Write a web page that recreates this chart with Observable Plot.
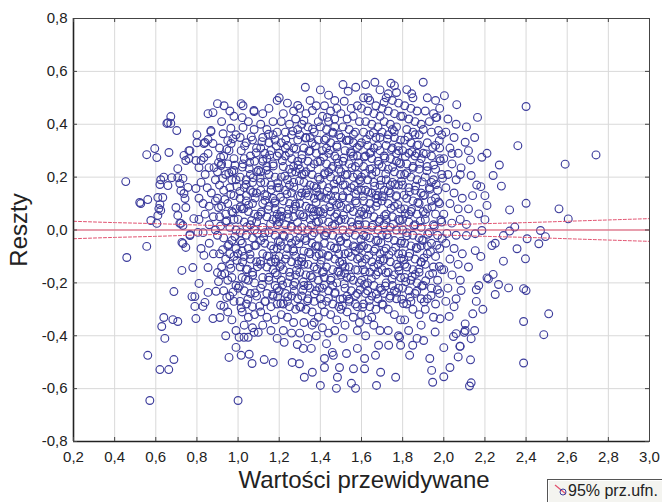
<!DOCTYPE html>
<html><head><meta charset="utf-8">
<script src="https://cdn.jsdelivr.net/npm/d3@7"></script>
<script src="https://cdn.jsdelivr.net/npm/@observablehq/plot@0.6"></script>
<style>
html,body{margin:0;padding:0;background:#fff;overflow:hidden;width:662px;height:502px;}
#wrap{position:relative;width:662px;height:502px;}
#legend{position:absolute;left:547px;top:479px;width:130px;height:32px;border:1px solid #555;background:#f4f4f0;box-sizing:border-box;font-family:"Liberation Sans",Arial,sans-serif;font-size:16px;color:#222;box-shadow:inset 1px 1px 0 #fff;}
#legend svg{position:absolute;left:6px;top:3px;}
#legend span{position:absolute;left:20px;top:2px;white-space:nowrap;}
</style></head><body><div id="wrap"><div id="legend"><svg width="16" height="14"><line x1="1" y1="2" x2="12" y2="11" stroke="#e2506e" stroke-width="1.2"/><circle cx="9" cy="9" r="3" fill="none" stroke="#3d3d9c"/></svg><span>95% prz.ufn.</span></div></div>
<script>
const xTicks = [0.2,0.4,0.6,0.8,1.0,1.2,1.4,1.6,1.8,2.0,2.2,2.4,2.6,2.8,3.0];
const xTickLabels = ["0,2","0,4","0,6","0,8","1,0","1,2","1,4","1,6","1,8","2,0","2,2","2,4","2,6","2,8","3,0"];
const yTicks = [-0.8,-0.6,-0.4,-0.2,0,0.2,0.4,0.6,0.8];
const yTickLabels = ["-0,8","-0,6","-0,4","-0,2","0,0","0,2","0,4","0,6","0,8"];
const xTitle = "Wartości przewidywane";
const yTitle = "Reszty";

// 95% confidence band of the regression line
const ciX = [0.2,0.4,0.6,0.8,1.0,1.2,1.4,1.6,1.8,2.0,2.2,2.4,2.6,2.8,3.0];
const ciUpper = [0.033,0.028,0.024,0.019,0.015,0.012,0.011,0.012,0.015,0.019,0.024,0.028,0.033,0.038,0.043];
const ciLower = [-0.033,-0.028,-0.024,-0.019,-0.015,-0.012,-0.011,-0.012,-0.015,-0.019,-0.024,-0.028,-0.033,-0.038,-0.043];

// [predicted, residual]
const ptsLeft = [[0.454,0.183],[0.459,-0.104],[0.522,0.104],[0.527,0.1],[0.556,0.285],[0.561,0.115],[0.556,-0.062],[0.561,-0.474],[0.571,-0.645],[0.576,0.036],[0.595,0.308],[0.605,0.274],[0.605,0.025],[0.61,0.055],[0.61,0.123],[0.62,0.096],[0.615,0.081],[0.624,0.074],[0.624,0.19],[0.639,0.2],[0.62,0.172],[0.634,0.123],[0.659,0.168],[0.654,0.403],[0.659,0.406],[0.673,0.429],[0.673,0.403],[0.664,0.293],[0.678,0.198],[0.62,-0.528],[0.629,-0.365],[0.639,-0.331],[0.644,-0.41],[0.663,-0.528],[0.683,-0.339],[0.688,-0.49],[0.688,-0.233],[0.702,0.376],[0.707,0.232],[0.707,0.198],[0.717,0.176],[0.732,0.195],[0.722,0.149],[0.737,0.138],[0.756,0.161],[0.742,0.119],[0.698,0.085],[0.746,0.085],[0.717,0.025],[0.732,0.017],[0.707,0.055],[0.722,0.025],[0.766,-0.017],[0.732,-0.051],[0.746,0.263],[0.737,0.282],[0.761,0.3],[0.766,0.3],[0.707,-0.346],[0.727,-0.153],[0.727,-0.047],[0.746,-0.066],[0.766,-0.021],[0.78,-0.142],[0.776,-0.252],[0.79,-0.252],[0.79,-0.289],[0.795,-0.335],[0.795,0.157],[0.785,0.043],[0.761,0.27],[0.795,0.263]];

const ptsA = [[0.80,0.36],[0.80,0.33],[0.81,0.236],[0.82,0.263],[0.834,0.327],[0.834,0.274],[0.839,0.331],[0.854,0.342],[0.854,0.44],[0.854,0.289],[0.859,0.236],[0.868,0.376],[0.868,0.372],[0.878,0.444],[0.878,0.327],[0.883,0.236],[0.90,0.478],[0.84,0.21],[0.89,0.19],[0.82,0.18],[0.85,0.16],[0.87,0.14],[0.81,0.12],[0.83,0.10],[0.86,0.09],[0.89,0.11],[0.84,0.06],[0.88,0.05],[0.81,0.04],[0.86,0.02],[0.89,0.0],[0.83,-0.01],[0.805,-0.009],[0.82,-0.07],[0.834,-0.096],[0.86,-0.05],[0.88,-0.09],[0.854,-0.142],[0.90,-0.161],[0.81,-0.202],[0.829,-0.289],[0.839,-0.274],[0.854,-0.236],[0.878,-0.335],[0.912,-0.331],[0.893,-0.232],[0.932,-0.289],[0.956,-0.482],[0.99,-0.444],
[0.917,0.244],[0.927,0.364],[0.932,0.47],[0.95,0.338],[0.95,0.25],[0.956,0.30],[0.966,0.327],[0.98,0.27],[0.98,0.225],[0.96,0.45],[0.98,0.43],[0.92,0.41],[0.99,0.36],[0.91,0.31],[0.92,0.25],[0.90,0.22],[0.94,0.21],[0.97,0.22],[0.99,0.19],[0.91,0.17],[0.93,0.15],[0.96,0.16],[0.98,0.13],[0.90,0.12],[0.92,0.09],[0.95,0.10],[0.97,0.07],[0.99,0.08],[0.91,0.05],[0.94,0.03],[0.96,0.01],[0.98,0.04],[0.90,-0.02],[0.93,-0.03],[0.95,-0.06],[0.97,-0.04],[0.99,-0.07],[0.91,-0.09],[0.94,-0.11],[0.96,-0.13],[0.98,-0.10],[0.92,-0.17],[0.95,-0.19],[0.97,-0.18],[0.99,-0.21],[0.93,-0.23],[0.96,-0.25],[0.98,-0.27],[0.95,-0.31],[0.97,-0.34],[0.99,-0.38],[0.94,-0.40],[0.92,-0.14],[0.94,0.06],[0.97,0.19],[0.93,0.28],[0.99,0.0],[0.96,-0.09]];

const ptsB = [[1.0,-0.645],[1.015,0.478],[1.024,0.47],[1.078,0.448],[1.077,0.452],[1.02,0.425],[1.024,0.388],[1.078,0.38],[1.015,0.30],[1.024,0.25],[1.054,0.232],[1.05,0.41],[1.01,0.35],[1.04,0.33],[1.07,0.34],[1.09,0.31],[1.03,0.27],[1.06,0.28],[1.08,0.26],[1.09,0.22],[1.01,0.20],[1.04,0.19],[1.07,0.18],[1.03,0.16],[1.06,0.15],[1.09,0.14],[1.01,0.12],[1.04,0.11],[1.07,0.10],[1.02,0.08],[1.05,0.07],[1.08,0.06],[1.00,0.04],[1.03,0.03],[1.06,0.02],[1.09,0.03],[1.01,-0.01],[1.04,-0.02],[1.07,-0.03],[1.02,-0.05],[1.05,-0.07],[1.08,-0.06],[1.00,-0.09],[1.03,-0.10],[1.06,-0.11],[1.09,-0.12],[1.01,-0.14],[1.04,-0.15],[1.07,-0.16],[1.02,-0.18],[1.05,-0.19],[1.08,-0.20],[1.00,-0.22],[1.03,-0.23],[1.06,-0.24],[1.09,-0.25],[1.01,-0.27],[1.04,-0.28],[1.07,-0.29],[1.02,-0.31],[1.05,-0.33],[1.08,-0.32],[1.03,-0.36],[1.07,-0.37],[1.005,-0.406],[1.029,-0.406],[1.049,-0.406],[1.078,-0.387],[1.098,-0.387],[1.015,-0.474],[1.054,-0.47],[1.068,-0.505],[1.04,0.13],[1.08,0.0],[1.02,-0.08],[1.06,0.21],
[1.12,0.44],[1.15,0.46],[1.19,0.49],[1.11,0.40],[1.14,0.38],[1.17,0.41],[1.19,0.37],[1.12,0.35],[1.15,0.33],[1.18,0.34],[1.11,0.31],[1.13,0.29],[1.16,0.30],[1.19,0.28],[1.12,0.26],[1.14,0.24],[1.17,0.25],[1.11,0.22],[1.15,0.21],[1.18,0.20],[1.13,0.18],[1.16,0.17],[1.19,0.16],[1.11,0.15],[1.14,0.13],[1.17,0.12],[1.12,0.10],[1.15,0.09],[1.18,0.08],[1.11,0.06],[1.14,0.05],[1.17,0.04],[1.19,0.02],[1.12,0.01],[1.15,-0.01],[1.18,-0.02],[1.11,-0.04],[1.13,-0.05],[1.16,-0.06],[1.19,-0.07],[1.12,-0.09],[1.15,-0.10],[1.18,-0.11],[1.11,-0.13],[1.14,-0.14],[1.17,-0.15],[1.19,-0.17],[1.12,-0.18],[1.15,-0.19],[1.18,-0.21],[1.11,-0.22],[1.14,-0.24],[1.17,-0.25],[1.13,-0.27],[1.16,-0.29],[1.19,-0.28],[1.11,-0.31],[1.14,-0.33],[1.18,-0.34],[1.12,-0.36],[1.16,-0.38],[1.19,-0.41],[1.127,-0.49],[1.171,-0.501],[1.14,0.27],[1.18,0.11],[1.13,-0.01],[1.16,-0.12],[1.19,0.06],[1.17,0.36],[1.11,0.18],[1.19,-0.22]];

const ptsC = [[1.20,0.50],[1.24,0.48],[1.27,0.45],[1.29,0.471],[1.22,0.44],[1.21,0.41],[1.25,0.40],[1.28,0.42],[1.23,0.37],[1.26,0.36],[1.29,0.38],[1.21,0.33],[1.24,0.32],[1.27,0.31],[1.20,0.29],[1.23,0.28],[1.26,0.27],[1.29,0.26],[1.22,0.24],[1.25,0.23],[1.28,0.22],[1.21,0.20],[1.24,0.19],[1.27,0.18],[1.20,0.16],[1.23,0.15],[1.26,0.14],[1.29,0.13],[1.22,0.11],[1.25,0.10],[1.28,0.09],[1.21,0.07],[1.24,0.06],[1.27,0.05],[1.20,0.03],[1.23,0.02],[1.26,0.01],[1.29,0.00],[1.22,-0.02],[1.25,-0.03],[1.28,-0.04],[1.21,-0.06],[1.24,-0.07],[1.27,-0.08],[1.20,-0.10],[1.23,-0.11],[1.26,-0.12],[1.29,-0.13],[1.22,-0.15],[1.25,-0.16],[1.28,-0.17],[1.21,-0.19],[1.24,-0.20],[1.27,-0.21],[1.20,-0.23],[1.23,-0.24],[1.26,-0.25],[1.29,-0.26],[1.22,-0.28],[1.25,-0.29],[1.28,-0.30],[1.21,-0.32],[1.24,-0.33],[1.27,-0.35],[1.22,-0.38],[1.26,-0.39],[1.224,-0.425],[1.288,-0.433],[1.263,-0.501],[1.298,-0.506],[1.27,0.08],[1.21,-0.13],[1.25,0.17],[1.28,-0.10],[1.23,0.31],[1.26,-0.05],[1.20,0.05],[1.29,0.34],[1.24,-0.27],[1.27,0.24],
[1.327,0.54],[1.30,0.46],[1.35,0.49],[1.38,0.47],[1.361,0.452],[1.32,0.414],[1.33,0.44],[1.39,0.41],[1.31,0.40],[1.34,0.39],[1.37,0.37],[1.30,0.36],[1.33,0.35],[1.36,0.33],[1.39,0.34],[1.32,0.31],[1.35,0.30],[1.38,0.29],[1.31,0.27],[1.34,0.26],[1.37,0.25],[1.30,0.23],[1.33,0.22],[1.36,0.21],[1.39,0.20],[1.32,0.18],[1.35,0.17],[1.38,0.16],[1.31,0.14],[1.34,0.13],[1.37,0.12],[1.30,0.10],[1.33,0.09],[1.36,0.08],[1.39,0.07],[1.32,0.05],[1.35,0.04],[1.38,0.03],[1.31,0.01],[1.34,0.00],[1.37,-0.01],[1.30,-0.03],[1.33,-0.04],[1.36,-0.05],[1.39,-0.06],[1.32,-0.08],[1.35,-0.09],[1.38,-0.10],[1.31,-0.12],[1.34,-0.13],[1.37,-0.14],[1.30,-0.16],[1.33,-0.17],[1.36,-0.18],[1.39,-0.19],[1.32,-0.21],[1.35,-0.22],[1.38,-0.23],[1.31,-0.25],[1.34,-0.26],[1.37,-0.27],[1.30,-0.29],[1.33,-0.30],[1.36,-0.31],[1.39,-0.33],[1.32,-0.35],[1.36,-0.36],[1.38,-0.40],[1.34,-0.41],[1.30,-0.39],[1.317,-0.448],[1.356,-0.448],[1.322,-0.557],[1.361,-0.538],[1.33,0.14],[1.36,-0.02],[1.31,0.21],[1.37,0.07],[1.34,-0.21],[1.39,0.13],[1.32,-0.13],[1.35,0.35],[1.38,-0.06],[1.30,0.06],[1.37,-0.35],
[1.40,0.53],[1.44,0.51],[1.47,0.49],[1.434,0.426],[1.42,0.47],[1.45,0.45],[1.48,0.46],[1.41,0.43],[1.44,0.41],[1.47,0.42],[1.40,0.39],[1.43,0.38],[1.46,0.37],[1.49,0.36],[1.42,0.34],[1.45,0.33],[1.48,0.32],[1.41,0.30],[1.44,0.29],[1.47,0.28],[1.40,0.26],[1.43,0.25],[1.46,0.24],[1.49,0.23],[1.42,0.21],[1.45,0.20],[1.48,0.19],[1.41,0.17],[1.44,0.16],[1.47,0.15],[1.40,0.13],[1.43,0.12],[1.46,0.11],[1.49,0.10],[1.42,0.08],[1.45,0.07],[1.48,0.06],[1.41,0.04],[1.44,0.03],[1.47,0.02],[1.40,0.00],[1.43,-0.01],[1.46,-0.02],[1.49,-0.03],[1.42,-0.05],[1.45,-0.06],[1.48,-0.07],[1.41,-0.09],[1.44,-0.10],[1.47,-0.11],[1.40,-0.13],[1.43,-0.14],[1.46,-0.15],[1.49,-0.16],[1.42,-0.18],[1.45,-0.19],[1.48,-0.20],[1.41,-0.22],[1.44,-0.23],[1.47,-0.24],[1.40,-0.26],[1.43,-0.27],[1.46,-0.28],[1.49,-0.29],[1.42,-0.31],[1.45,-0.32],[1.48,-0.34],[1.41,-0.37],[1.44,-0.39],[1.47,-0.38],[1.40,-0.588],[1.478,-0.599],[1.483,-0.557],[1.42,-0.52],[1.493,-0.52],[1.42,-0.486],[1.463,-0.474],[1.458,-0.463],[1.45,0.13],[1.41,-0.16],[1.47,0.05],[1.43,0.31],[1.49,-0.09],[1.44,0.22],[1.40,0.07],[1.46,-0.21],[1.48,0.27],[1.42,-0.02],[1.47,0.39],[1.43,-0.43],
[1.51,0.55],[1.535,0.525],[1.572,0.54],[1.516,0.487],[1.55,0.46],[1.58,0.47],[1.50,0.44],[1.53,0.42],[1.56,0.43],[1.59,0.41],[1.51,0.39],[1.54,0.38],[1.57,0.37],[1.50,0.35],[1.53,0.34],[1.56,0.33],[1.59,0.32],[1.52,0.30],[1.55,0.29],[1.58,0.28],[1.51,0.26],[1.54,0.25],[1.57,0.24],[1.50,0.22],[1.53,0.21],[1.56,0.20],[1.59,0.19],[1.52,0.17],[1.55,0.16],[1.58,0.15],[1.51,0.13],[1.54,0.12],[1.57,0.11],[1.50,0.09],[1.53,0.08],[1.56,0.07],[1.59,0.06],[1.52,0.04],[1.55,0.03],[1.58,0.02],[1.51,0.00],[1.54,-0.01],[1.57,-0.02],[1.50,-0.04],[1.53,-0.05],[1.56,-0.06],[1.59,-0.07],[1.52,-0.09],[1.55,-0.10],[1.58,-0.11],[1.51,-0.13],[1.54,-0.14],[1.57,-0.15],[1.50,-0.17],[1.53,-0.18],[1.56,-0.19],[1.59,-0.20],[1.52,-0.22],[1.55,-0.23],[1.58,-0.24],[1.51,-0.26],[1.54,-0.27],[1.57,-0.28],[1.50,-0.30],[1.53,-0.31],[1.56,-0.33],[1.59,-0.35],[1.52,-0.36],[1.58,-0.38],[1.51,-0.41],[1.551,-0.58],[1.571,-0.599],[1.561,-0.525],[1.527,-0.467],[1.58,-0.448],[1.52,-0.14],[1.58,0.21],[1.54,0.34],[1.57,-0.08],[1.51,0.17],[1.59,0.02],[1.53,-0.25],[1.56,0.28],[1.50,0.04],[1.58,-0.29]];

const ptsD = [[1.665,0.559],[1.62,0.55],[1.632,0.50],[1.69,0.53],[1.61,0.50],[1.64,0.49],[1.67,0.47],[1.60,0.46],[1.63,0.45],[1.66,0.44],[1.69,0.43],[1.62,0.41],[1.65,0.40],[1.68,0.39],[1.61,0.37],[1.64,0.36],[1.67,0.35],[1.60,0.33],[1.63,0.32],[1.66,0.31],[1.69,0.30],[1.62,0.28],[1.65,0.27],[1.68,0.26],[1.61,0.24],[1.64,0.23],[1.67,0.22],[1.60,0.20],[1.63,0.19],[1.66,0.18],[1.69,0.17],[1.62,0.15],[1.65,0.14],[1.68,0.13],[1.61,0.11],[1.64,0.10],[1.67,0.09],[1.60,0.07],[1.63,0.06],[1.66,0.05],[1.69,0.04],[1.62,0.02],[1.65,0.01],[1.68,0.00],[1.61,-0.02],[1.64,-0.03],[1.67,-0.04],[1.60,-0.06],[1.63,-0.07],[1.66,-0.08],[1.69,-0.09],[1.62,-0.11],[1.65,-0.12],[1.68,-0.13],[1.61,-0.15],[1.64,-0.16],[1.67,-0.17],[1.60,-0.19],[1.63,-0.20],[1.66,-0.21],[1.69,-0.22],[1.62,-0.24],[1.65,-0.25],[1.68,-0.26],[1.61,-0.28],[1.64,-0.29],[1.67,-0.30],[1.60,-0.32],[1.63,-0.34],[1.66,-0.36],[1.69,-0.38],[1.62,-0.40],[1.615,-0.525],[1.615,-0.486],[1.673,-0.588],[1.693,-0.538],[1.668,-0.474],[1.683,-0.436],[1.65,0.21],[1.61,-0.06],[1.67,0.12],[1.63,-0.23],[1.69,0.35],[1.62,0.08],[1.66,-0.14],[1.64,0.29],[1.68,-0.04],[1.60,0.15],[1.65,-0.33],
[1.743,0.555],[1.76,0.546],[1.73,0.515],[1.71,0.483],[1.72,0.50],[1.77,0.52],[1.75,0.49],[1.78,0.48],[1.70,0.46],[1.73,0.45],[1.76,0.44],[1.79,0.43],[1.71,0.41],[1.74,0.40],[1.77,0.39],[1.70,0.37],[1.73,0.36],[1.76,0.35],[1.79,0.34],[1.72,0.32],[1.75,0.31],[1.78,0.30],[1.71,0.28],[1.74,0.27],[1.77,0.26],[1.70,0.24],[1.73,0.23],[1.76,0.22],[1.79,0.21],[1.72,0.19],[1.75,0.18],[1.78,0.17],[1.71,0.15],[1.74,0.14],[1.77,0.13],[1.70,0.11],[1.73,0.10],[1.76,0.09],[1.79,0.08],[1.72,0.06],[1.75,0.05],[1.78,0.04],[1.71,0.02],[1.74,0.01],[1.77,0.00],[1.70,-0.02],[1.73,-0.03],[1.76,-0.04],[1.79,-0.05],[1.72,-0.07],[1.75,-0.08],[1.78,-0.09],[1.71,-0.11],[1.74,-0.12],[1.77,-0.13],[1.70,-0.15],[1.73,-0.16],[1.76,-0.17],[1.79,-0.18],[1.72,-0.20],[1.75,-0.21],[1.78,-0.22],[1.71,-0.24],[1.74,-0.25],[1.77,-0.26],[1.70,-0.28],[1.73,-0.30],[1.76,-0.32],[1.79,-0.34],[1.73,-0.38],[1.78,-0.40],[1.766,-0.557],[1.732,-0.436],[1.79,-0.436],[1.785,-0.406],[1.74,0.17],[1.71,-0.08],[1.77,0.29],[1.72,0.04],[1.78,-0.14],[1.75,0.38],[1.70,0.13],[1.76,-0.23],[1.79,0.25],
[1.90,0.559],[1.82,0.531],[1.844,0.515],[1.85,0.50],[1.81,0.47],[1.84,0.46],[1.87,0.45],[1.80,0.43],[1.83,0.42],[1.86,0.41],[1.89,0.40],[1.82,0.38],[1.85,0.37],[1.88,0.36],[1.81,0.34],[1.84,0.33],[1.87,0.32],[1.80,0.30],[1.83,0.29],[1.86,0.28],[1.89,0.27],[1.82,0.25],[1.85,0.24],[1.88,0.23],[1.81,0.21],[1.84,0.20],[1.87,0.19],[1.80,0.17],[1.83,0.16],[1.86,0.15],[1.89,0.14],[1.82,0.12],[1.85,0.11],[1.88,0.10],[1.81,0.08],[1.84,0.07],[1.87,0.06],[1.80,0.04],[1.83,0.03],[1.86,0.02],[1.89,0.01],[1.82,-0.01],[1.85,-0.02],[1.88,-0.03],[1.81,-0.05],[1.84,-0.06],[1.87,-0.07],[1.80,-0.09],[1.83,-0.10],[1.86,-0.11],[1.89,-0.12],[1.82,-0.14],[1.85,-0.15],[1.88,-0.16],[1.81,-0.18],[1.84,-0.19],[1.87,-0.20],[1.80,-0.22],[1.83,-0.23],[1.86,-0.24],[1.89,-0.26],[1.82,-0.28],[1.85,-0.30],[1.88,-0.32],[1.829,-0.38],[1.849,-0.436],[1.834,-0.474],[1.87,-0.41],[1.89,-0.36],[1.81,-0.34],[1.81,-0.13],[1.87,0.29],[1.83,0.06],[1.89,-0.06],[1.84,-0.27],[1.86,0.36],[1.80,0.0],
[1.92,0.50],[1.966,0.426],[1.96,0.49],[1.91,0.45],[1.95,0.44],[1.98,0.46],[1.93,0.41],[1.974,0.376],[1.961,0.425],[1.90,0.38],[1.94,0.37],[1.99,0.36],[1.92,0.33],[1.96,0.32],[1.90,0.29],[1.94,0.28],[1.98,0.27],[1.92,0.24],[1.96,0.23],[1.99,0.21],[1.91,0.20],[1.95,0.19],[1.93,0.16],[1.97,0.15],[1.90,0.13],[1.94,0.11],[1.98,0.10],[1.92,0.08],[1.96,0.06],[1.91,0.04],[1.95,0.02],[1.99,0.03],[1.93,-0.01],[1.97,-0.02],[1.90,-0.04],[1.94,-0.05],[1.98,-0.07],[1.92,-0.09],[1.96,-0.10],[1.91,-0.13],[1.95,-0.14],[1.99,-0.15],[1.93,-0.17],[1.97,-0.19],[1.90,-0.21],[1.94,-0.22],[1.98,-0.24],[1.92,-0.26],[1.96,-0.28],[1.91,-0.30],[1.95,-0.33],[1.982,-0.336],[1.958,-0.386],[1.902,-0.418],[1.932,-0.486],[1.941,-0.531],[1.946,-0.576],[1.96,0.12],[1.92,-0.06],[1.98,0.31],[1.94,0.18],[1.90,0.07]];

const ptsCore = [[0.915,-0.285],[0.945,-0.255],[0.975,-0.235],[0.905,-0.195],[0.935,-0.165],[0.965,-0.145],[0.995,-0.115],[0.925,-0.075],[0.955,-0.055],[0.985,-0.025],[0.915,0.015],[0.945,0.035],[0.975,0.065],[0.905,0.085],[0.935,0.115],[0.965,0.135],[0.995,0.165],[0.925,0.195],[0.955,0.215],[0.985,0.245],[0.915,0.275],[0.945,0.305],[0.975,0.345],[0.905,0.255],[0.965,0.385],
[1.015,-0.295],[1.048,-0.262],[1.082,-0.238],[1.006,-0.212],[1.037,-0.186],[1.071,-0.171],[1.094,-0.139],[1.022,-0.121],[1.058,-0.092],[1.087,-0.058],[1.012,-0.041],[1.043,0.012],[1.066,0.036],[1.097,0.052],[1.028,0.081],[1.051,0.094],[1.083,0.121],[1.009,0.146],[1.039,0.172],[1.074,0.198],[1.099,0.226],[1.021,0.238],[1.056,0.256],[1.088,0.292],[1.032,0.318],[1.064,0.352],[1.011,0.088],[1.093,-0.012],[1.045,-0.148],[1.072,0.142],
[1.105,-0.288],[1.133,-0.271],[1.168,-0.244],[1.192,-0.252],[1.118,-0.206],[1.149,-0.179],[1.181,-0.162],[1.109,-0.118],[1.141,-0.098],[1.173,-0.072],[1.196,-0.041],[1.124,-0.028],[1.158,0.022],[1.187,0.041],[1.113,0.068],[1.146,0.077],[1.178,0.102],[1.129,0.134],[1.161,0.152],[1.193,0.178],[1.107,0.196],[1.138,0.226],[1.171,0.242],[1.121,0.268],[1.154,0.284],[1.186,0.318],[1.116,0.334],[1.148,0.362],[1.183,-0.121],[1.131,0.112],
[1.208,-0.278],[1.241,-0.252],[1.273,-0.231],[1.216,-0.208],[1.252,-0.176],[1.284,-0.152],[1.203,-0.138],[1.235,-0.094],[1.267,-0.071],[1.296,-0.052],[1.224,-0.024],[1.258,0.014],[1.289,0.028],[1.212,0.052],[1.246,0.078],[1.278,0.098],[1.206,0.124],[1.238,0.136],[1.271,0.162],[1.298,0.186],[1.227,0.204],[1.261,0.218],[1.292,0.246],[1.215,0.262],[1.249,0.292],[1.282,0.306],[1.232,0.342],[1.266,0.374],[1.205,-0.046],[1.294,-0.118],[1.244,0.046],[1.276,-0.198],
[1.305,-0.292],[1.338,-0.268],[1.371,-0.242],[1.396,-0.218],[1.318,-0.196],[1.352,-0.172],[1.384,-0.148],[1.309,-0.106],[1.343,-0.084],[1.376,-0.062],[1.324,-0.032],[1.357,0.018],[1.391,0.032],[1.314,0.058],[1.347,0.082],[1.379,0.104],[1.303,0.128],[1.336,0.152],[1.368,0.166],[1.398,0.192],[1.321,0.212],[1.354,0.236],[1.387,0.258],[1.311,0.284],[1.344,0.298],[1.376,0.318],[1.328,0.348],[1.362,0.382],[1.394,-0.092],[1.366,0.054],[1.315,-0.228],[1.382,0.144],
[1.408,-0.282],[1.439,-0.258],[1.472,-0.236],[1.496,-0.262],[1.419,-0.208],[1.452,-0.182],[1.485,-0.156],[1.404,-0.114],[1.437,-0.096],[1.468,-0.068],[1.498,-0.044],[1.426,-0.022],[1.458,0.016],[1.489,0.036],[1.413,0.062],[1.446,0.088],[1.478,0.094],[1.406,0.124],[1.433,0.146],[1.466,0.174],[1.497,0.186],[1.422,0.216],[1.455,0.232],[1.487,0.252],[1.416,0.276],[1.448,0.302],[1.481,0.314],[1.428,0.346],[1.462,0.366],[1.494,-0.122],[1.415,-0.158],[1.474,0.128],
[1.507,-0.286],[1.539,-0.262],[1.571,-0.248],[1.594,-0.226],[1.516,-0.204],[1.548,-0.178],[1.582,-0.152],[1.505,-0.118],[1.536,-0.086],[1.568,-0.064],[1.597,-0.036],[1.523,-0.026],[1.556,0.012],[1.588,0.038],[1.512,0.056],[1.544,0.084],[1.576,0.102],[1.508,0.122],[1.532,0.148],[1.564,0.168],[1.596,0.184],[1.521,0.208],[1.553,0.236],[1.586,0.254],[1.514,0.272],[1.547,0.296],[1.579,0.312],[1.526,0.338],[1.561,0.362],[1.592,-0.104],[1.518,-0.164],[1.573,0.136],
[1.606,-0.292],[1.638,-0.266],[1.672,-0.242],[1.697,-0.228],[1.615,-0.206],[1.648,-0.184],[1.681,-0.158],[1.603,-0.124],[1.635,-0.096],[1.667,-0.072],[1.694,-0.048],[1.622,-0.024],[1.654,0.018],[1.686,0.032],[1.611,0.058],[1.643,0.076],[1.677,0.104],[1.608,0.128],[1.631,0.144],[1.664,0.166],[1.695,0.188],[1.619,0.214],[1.652,0.232],[1.684,0.248],[1.613,0.276],[1.646,0.294],[1.678,0.318],[1.624,0.342],[1.658,0.368],[1.691,-0.112],[1.617,-0.158],[1.671,0.132],
[1.705,-0.284],[1.737,-0.258],[1.771,-0.236],[1.796,-0.262],[1.716,-0.212],[1.748,-0.186],[1.782,-0.154],[1.704,-0.116],[1.733,-0.094],[1.766,-0.066],[1.794,-0.042],[1.723,-0.018],[1.755,0.022],[1.787,0.036],[1.712,0.054],[1.744,0.082],[1.776,0.096],[1.707,0.126],[1.731,0.148],[1.763,0.172],[1.794,0.184],[1.718,0.212],[1.751,0.238],[1.783,0.254],[1.714,0.272],[1.746,0.304],[1.778,0.316],[1.726,0.344],[1.759,0.372],[1.792,-0.108],[1.719,-0.162],[1.768,0.126],
[1.804,-0.278],[1.836,-0.254],[1.868,-0.232],[1.893,-0.212],[1.815,-0.196],[1.846,-0.176],[1.879,-0.148],[1.806,-0.112],[1.834,-0.088],[1.866,-0.066],[1.894,-0.038],[1.821,-0.022],[1.854,0.016],[1.886,0.034],[1.812,0.062],[1.843,0.078],[1.874,0.104],[1.807,0.132],[1.832,0.144],[1.863,0.166],[1.895,0.182],[1.819,0.216],[1.851,0.234],[1.882,0.252],[1.813,0.278],[1.845,0.296],[1.877,0.322],[1.827,0.352],[1.861,-0.168],[1.889,-0.122],
[1.905,-0.272],[1.938,-0.248],[1.969,-0.226],[1.912,-0.192],[1.946,-0.164],[1.978,-0.138],[1.903,-0.106],[1.935,-0.082],[1.966,-0.058],[1.992,-0.032],[1.922,-0.016],[1.954,0.014],[1.986,0.038],[1.911,0.062],[1.943,0.088],[1.974,0.106],[1.906,0.132],[1.932,0.154],[1.963,0.172],[1.994,0.196],[1.918,0.224],[1.951,0.246],[1.983,0.262],[1.914,0.288],[1.946,0.312],[1.978,0.338]];

const ptsE = [[2.003,0.508],[2.063,0.474],[2.104,0.332],[2.04,0.289],[2.084,0.235],[2.02,0.42],[2.06,0.40],[2.01,0.37],[2.05,0.35],[2.03,0.31],[2.07,0.29],[2.00,0.27],[2.04,0.25],[2.08,0.21],[2.02,0.21],[2.06,0.19],[2.01,0.16],[2.05,0.14],[2.09,0.12],[2.03,0.10],[2.07,0.08],[2.00,0.06],[2.039,0.026],[2.08,0.04],[2.015,-0.013],[2.06,-0.02],[2.01,-0.05],[2.05,-0.07],[2.09,-0.09],[2.03,-0.11],[2.07,-0.13],[2.00,-0.15],[2.04,-0.17],[2.08,-0.19],[2.02,-0.22],[2.084,-0.229],[2.06,-0.26],[2.01,-0.27],[2.05,-0.29],[2.026,-0.327],[2.104,-0.355],[2.06,-0.392],[2.047,-0.403],[2.104,-0.38],[2.08,-0.44],[2.0,-0.445],[2.078,-0.44],[2.10,-0.387],[2.0,-0.555],[2.03,-0.52],[2.07,-0.48],
[2.164,0.426],[2.40,0.467],[2.36,0.319],[2.74,0.284],[2.59,0.249],[2.27,0.246],[2.21,0.29],[2.185,0.275],[2.13,0.265],[2.24,0.206],[2.133,0.206],[2.18,0.164],[2.28,0.166],[2.40,0.101],[2.32,0.076],[2.56,0.08],[2.605,0.042],[2.21,0.093],[2.17,0.061],[2.20,0.039],[2.11,0.021],[2.345,0.011],[2.32,-0.004],[2.29,-0.021],[2.185,-0.002],[2.153,-0.014],[2.47,-0.002],[2.494,-0.025],[2.405,-0.033],[2.462,-0.052],[2.356,-0.071],[2.25,-0.05],[2.234,-0.059],[2.153,-0.078],[2.29,-0.118],[2.397,-0.109],[2.24,-0.168],[2.21,-0.181],[2.11,-0.021],[2.217,-0.185],[2.266,-0.206],[2.315,-0.219],[2.388,-0.222],[2.40,-0.229],[2.25,-0.244],[2.17,-0.21],[2.158,-0.226],[2.158,-0.27],[2.141,-0.317],[2.51,-0.317],[2.388,-0.346],[2.486,-0.396],[2.133,-0.411],[2.13,-0.491],[2.388,-0.503],[2.133,-0.578],[2.125,-0.59],[2.12,0.30],[2.15,0.35],[2.11,0.39],[2.14,0.13],[2.12,0.08],[2.16,0.17],[2.18,-0.10],[2.12,-0.14],[2.19,-0.30],[2.15,-0.38],[2.20,0.13]];

const points = [...ptsLeft, ...ptsA, ...ptsB, ...ptsC, ...ptsD, ...ptsCore, ...ptsE];
const ciUpperData = ciX.map((x, i) => ({x, y: ciUpper[i]}));
const ciLowerData = ciX.map((x, i) => ({x, y: ciLower[i]}));

const W = 662, H = 502, mT = 18, mB = 61, mL = 73, mR = 13;
const innerH = H - mT - mB, innerW = W - mL - mR;
const red = "#e2506e";

const chart = Plot.plot({
  width: W, height: H,
  marginTop: mT, marginBottom: mB, marginLeft: mL, marginRight: mR,
  style: {fontFamily: "'Liberation Sans', Arial, sans-serif", fontSize: "15px", color: "#222", background: "#fff", overflow: "visible"},
  x: {domain: [0.2, 3.0], label: null},
  y: {domain: [-0.8, 0.8], label: null},
  marks: [
    Plot.gridX(xTicks, {stroke: "#d9d9d9", strokeOpacity: 1}),
    Plot.gridY(yTicks, {stroke: "#d9d9d9", strokeOpacity: 1}),
    Plot.dot(points, {x: d => d[0], y: d => d[1], r: 3.9, stroke: "#3d3d9c", strokeWidth: 1.15, fill: "none"}),
    Plot.ruleY([0], {stroke: red, strokeWidth: 1.2}),
    Plot.line(ciUpperData, {x: "x", y: "y", stroke: red, strokeWidth: 1, strokeDasharray: "3,2", curve: "natural"}),
    Plot.line(ciLowerData, {x: "x", y: "y", stroke: red, strokeWidth: 1, strokeDasharray: "3,2", curve: "natural"}),
    Plot.frame({stroke: "#444", strokeWidth: 1}),
    Plot.ruleX([xTicks[0]], {stroke: "#222", strokeWidth: 1.6}),
    Plot.ruleY([yTicks[0]], {stroke: "#222", strokeWidth: 1.6}),
    Plot.ruleX(xTicks, {stroke: "#444", insetTop: innerH - 4}),
    Plot.ruleX(xTicks, {stroke: "#444", insetBottom: innerH - 4}),
    Plot.ruleY(yTicks, {stroke: "#444", insetLeft: innerW - 4}),
    Plot.ruleY(yTicks, {stroke: "#444", insetRight: innerW - 4}),
    Plot.axisX(xTicks, {tickSize: 0, tickPadding: 10, fontSize: 15, label: null, tickFormat: d => xTickLabels[xTicks.indexOf(d)]}),
    Plot.axisY(yTicks, {tickSize: 0, tickPadding: 6, fontSize: 15, label: null, tickFormat: d => yTickLabels[yTicks.indexOf(d)]})
  ]
});

const svg = d3.select(chart);
svg.append("text")
  .attr("transform", "translate(27,230) rotate(-90)")
  .attr("text-anchor", "middle")
  .attr("font-size", 24)
  .attr("fill", "#222")
  .text(yTitle);
svg.append("text")
  .attr("x", 364).attr("y", 488)
  .attr("text-anchor", "middle")
  .attr("font-size", 24)
  .attr("fill", "#222")
  .text(xTitle);

document.getElementById("wrap").prepend(chart);
</script>
</body></html>
